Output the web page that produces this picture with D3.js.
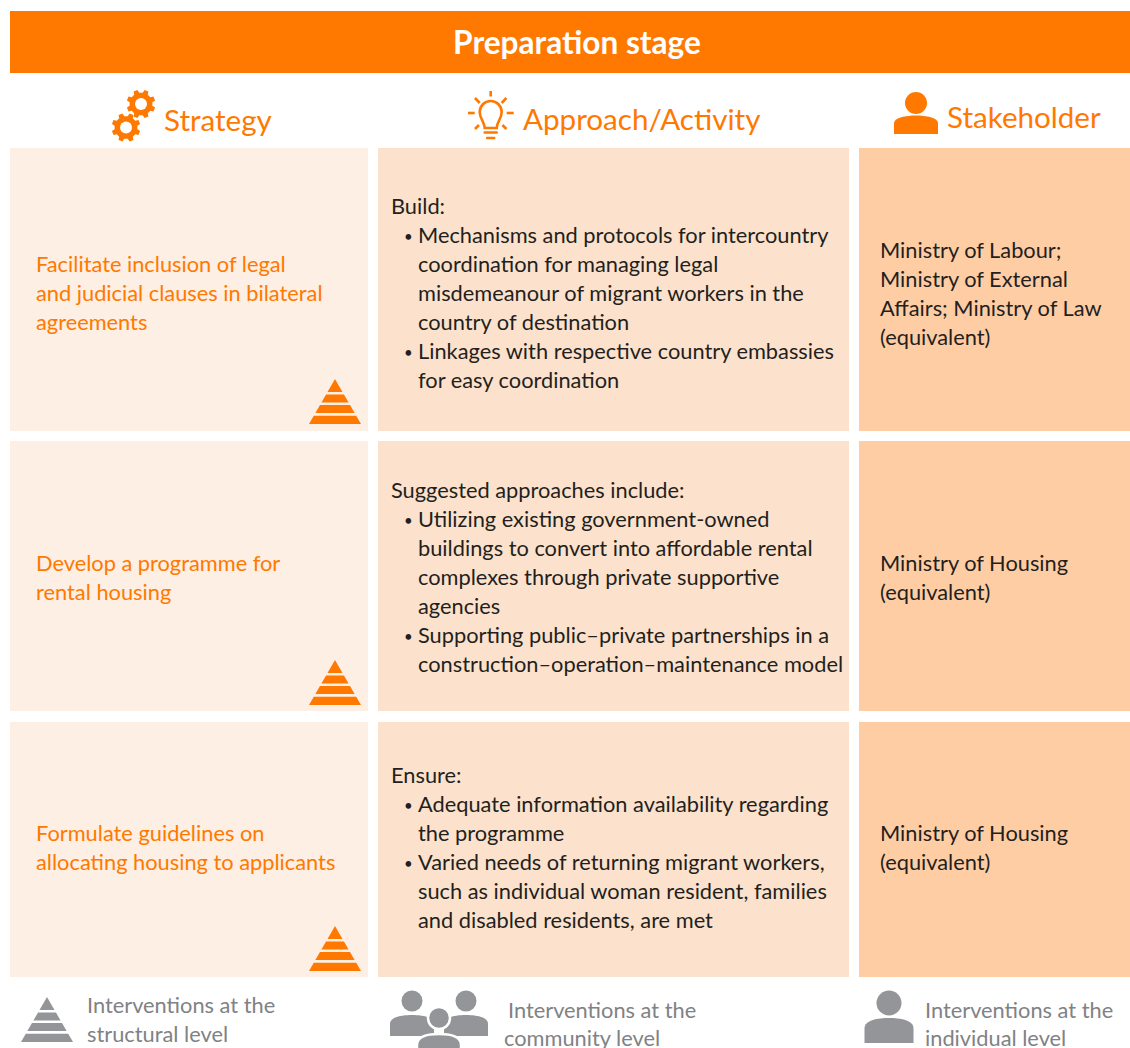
<!DOCTYPE html>
<html>
<head>
<meta charset="utf-8">
<script src="https://cdn.jsdelivr.net/npm/d3@7"></script>
<style>
  html, body { margin: 0; padding: 0; background: #fff; overflow: hidden; }
  text { font-family: Lato, "Open Sans", sans-serif; }
</style>
</head>
<body>
<div id="chart"></div>
<script>
var title = "Preparation stage";
var columnNames = ["Strategy", "Approach/Activity", "Stakeholder"];

var strategies = [
  ["Facilitate inclusion of legal", "and judicial clauses in bilateral", "agreements"],
  ["Develop a programme for", "rental housing"],
  ["Formulate guidelines on", "allocating housing to applicants"]
];

var approachIntro = ["Build:", "Suggested approaches include:", "Ensure:"];

var approachBullets = [
  [
    ["Mechanisms and protocols for intercountry", "coordination for managing legal", "misdemeanour of migrant workers in the", "country of destination"],
    ["Linkages with respective country embassies", "for easy coordination"]
  ],
  [
    ["Utilizing existing government-owned", "buildings to convert into affordable rental", "complexes through private supportive", "agencies"],
    ["Supporting public\u2013private partnerships in a", "construction\u2013operation\u2013maintenance model"]
  ],
  [
    ["Adequate information availability regarding", "the programme"],
    ["Varied needs of returning migrant workers,", "such as individual woman resident, families", "and disabled residents, are met"]
  ]
];

var stakeholders = [
  ["Ministry of Labour;", "Ministry of External", "Affairs; Ministry of Law", "(equivalent)"],
  ["Ministry of Housing", "(equivalent)"],
  ["Ministry of Housing", "(equivalent)"]
];

var legendLabels = [
  ["Interventions at the", "structural level"],
  ["Interventions at the", "community level"],
  ["Interventions at the", "individual level"]
];

var orange = "#ff7900";
var ink = "#231f20";
var greyText = "#808285";
var greyIcon = "#939598";
var lineGap = 29;
var bodySize = 21.8;

// layout of the grid
var columns = [
  {x: 10, w: 358, fill: "#fdefe3"},
  {x: 378, w: 471, fill: "#fce2cc"},
  {x: 859, w: 271, fill: "#ffcda4"}
];
var rows = [
  {y: 148, h: 283, mid: 301, pyramid: 424},
  {y: 441, h: 270, mid: 585, pyramid: 705},
  {y: 722, h: 255, mid: 855.5, pyramid: 971}
];

var svg = d3.select("#chart")
  .append("svg")
  .attr("width", 1130)
  .attr("height", 1048)
  .style("display", "block");

// Header band
svg.append("rect")
  .attr("x", 10).attr("y", 11)
  .attr("width", 1120).attr("height", 62)
  .attr("fill", orange);

svg.append("text")
  .attr("x", 577).attr("y", 54)
  .attr("text-anchor", "middle")
  .attr("font-size", 31.6)
  .attr("font-weight", 700)
  .attr("fill", "#fff")
  .text(title);

// Column headings
var headingPos = [{x: 164, y: 131}, {x: 523, y: 130}, {x: 947, y: 128}];
svg.selectAll(".heading")
  .data(columnNames)
  .enter().append("text")
  .attr("class", "heading")
  .attr("x", (d, i) => headingPos[i].x)
  .attr("y", (d, i) => headingPos[i].y)
  .attr("font-size", 29.6)
  .attr("fill", orange)
  .text(d => d);

// Panels
rows.forEach(function(row) {
  columns.forEach(function(col) {
    svg.append("rect")
      .attr("x", col.x).attr("y", row.y)
      .attr("width", col.w).attr("height", row.h)
      .attr("fill", col.fill);
  });
});

function addLines(lines, x, firstY, fill, gap) {
  lines.forEach(function(line, i) {
    svg.append("text")
      .attr("x", x)
      .attr("y", firstY + i * (gap || lineGap))
      .attr("font-size", bodySize)
      .attr("fill", fill)
      .text(line);
  });
}

rows.forEach(function(row, r) {
  // strategy column
  var s = strategies[r];
  addLines(s, 36, row.mid - (s.length - 1) * lineGap / 2, orange);

  // approach column
  var total = 1 + d3.sum(approachBullets[r], b => b.length);
  var y = row.mid - (total - 1) * lineGap / 2;
  addLines([approachIntro[r]], 391, y, ink);
  y += lineGap;
  approachBullets[r].forEach(function(bullet) {
    svg.append("text")
      .attr("x", 404).attr("y", y - 1)
      .attr("font-size", 15)
      .attr("fill", ink)
      .text("\u2022");
    addLines(bullet, 418, y, ink);
    y += bullet.length * lineGap;
  });

  // stakeholder column
  var k = stakeholders[r];
  addLines(k, 880, row.mid - (k.length - 1) * lineGap / 2, ink);

  pyramid(335, row.pyramid, orange);
});

// Four-band pyramid, base centred on cx and sitting on baseY
function pyramid(cx, baseY, fill) {
  var height = 45, half = 26;
  var bands = [[0, 13], [15.5, 23.5], [26, 34], [36.7, 45]];
  bands.forEach(function(b) {
    var p = d3.path();
    var wTop = half * b[0] / height, wBot = half * b[1] / height;
    var yTop = baseY - height + b[0], yBot = baseY - height + b[1];
    p.moveTo(cx - wTop, yTop);
    p.lineTo(cx + wTop, yTop);
    p.lineTo(cx + wBot, yBot);
    p.lineTo(cx - wBot, yBot);
    p.closePath();
    svg.append("path").attr("d", p.toString()).attr("fill", fill);
  });
}

// Head and shoulders
function person(cx, headY, headR, bodyW, bodyTop, bodyBottom, fill, outline) {
  var half = bodyW / 2;
  var p = d3.path();
  p.moveTo(cx - half, bodyBottom);
  p.lineTo(cx - half, bodyTop + (bodyBottom - bodyTop) * 0.42);
  p.bezierCurveTo(cx - half, bodyTop + 2, cx - half * 0.45, bodyTop, cx, bodyTop);
  p.bezierCurveTo(cx + half * 0.45, bodyTop, cx + half, bodyTop + 2, cx + half, bodyTop + (bodyBottom - bodyTop) * 0.42);
  p.lineTo(cx + half, bodyBottom);
  p.closePath();
  var body = svg.append("path").attr("d", p.toString()).attr("fill", fill);
  var head = svg.append("circle").attr("cx", cx).attr("cy", headY).attr("r", headR).attr("fill", fill);
  if (outline) {
    body.attr("stroke", "#fff").attr("stroke-width", 2.5);
    head.attr("stroke", "#fff").attr("stroke-width", 2.5);
  }
}

function gear(cx, cy, outer, inner, hole) {
  var pts = [];
  var teeth = 8;
  d3.range(teeth).forEach(function(i) {
    var a = i * 2 * Math.PI / teeth + Math.PI / 8;
    var st = Math.PI / teeth;
    pts.push([cx + inner * Math.cos(a - st * 0.62), cy + inner * Math.sin(a - st * 0.62)]);
    pts.push([cx + outer * Math.cos(a - st * 0.36), cy + outer * Math.sin(a - st * 0.36)]);
    pts.push([cx + outer * Math.cos(a + st * 0.36), cy + outer * Math.sin(a + st * 0.36)]);
    pts.push([cx + inner * Math.cos(a + st * 0.62), cy + inner * Math.sin(a + st * 0.62)]);
  });
  svg.append("path").attr("d", d3.line()(pts) + "Z").attr("fill", orange);
  svg.append("circle").attr("cx", cx).attr("cy", cy).attr("r", hole).attr("fill", "#fff");
}

function bulb(cx, cy) {
  var g = svg.append("g")
    .attr("transform", `translate(${cx}, ${cy})`)
    .attr("fill", "none")
    .attr("stroke", orange)
    .attr("stroke-width", 2.6);
  g.append("path").attr("d", "M-6,16 C-6,10 -11,7 -11,0 A11,11 0 1 1 11,0 C11,7 6,10 6,16 Z");
  g.append("path").attr("d", "M-6,20.5 H6 M-3.5,26 H3.5").attr("stroke-linecap", "round");
  [[0, -21, 0, -15.5], [-15.7, -14, -11, -9], [15.7, -14, 11, -9], [-22.7, 1, -16, 1], [23, 1, 16, 1], [-15.7, 17, -11.7, 13], [15.7, 17, 11.7, 13]]
    .forEach(function(r) {
      g.append("line").attr("x1", r[0]).attr("y1", r[1]).attr("x2", r[2]).attr("y2", r[3]);
    });
}

// Heading icons
gear(141, 104, 14.5, 11.5, 6);
gear(126, 127.5, 14.5, 11.5, 6);
bulb(490.7, 112);
person(916, 103, 11, 44, 115.5, 134, orange);

// Legend row
pyramid(47, 1042, greyIcon);
addLines(legendLabels[0], 87, 1013, greyText);

person(412, 1001, 10.5, 44, 1015, 1036, greyIcon);
person(466, 1001, 10.5, 44, 1015, 1036, greyIcon);
person(439, 1018, 11, 44, 1034, 1060, greyIcon, true);
addLines(legendLabels[1].slice(0, 1), 508, 1018, greyText);
addLines(legendLabels[1].slice(1), 504, 1046, greyText);

person(889, 1003, 12.5, 49, 1018, 1043, greyIcon);
addLines(legendLabels[2], 925, 1018, greyText, 28);
</script>
</body>
</html>
